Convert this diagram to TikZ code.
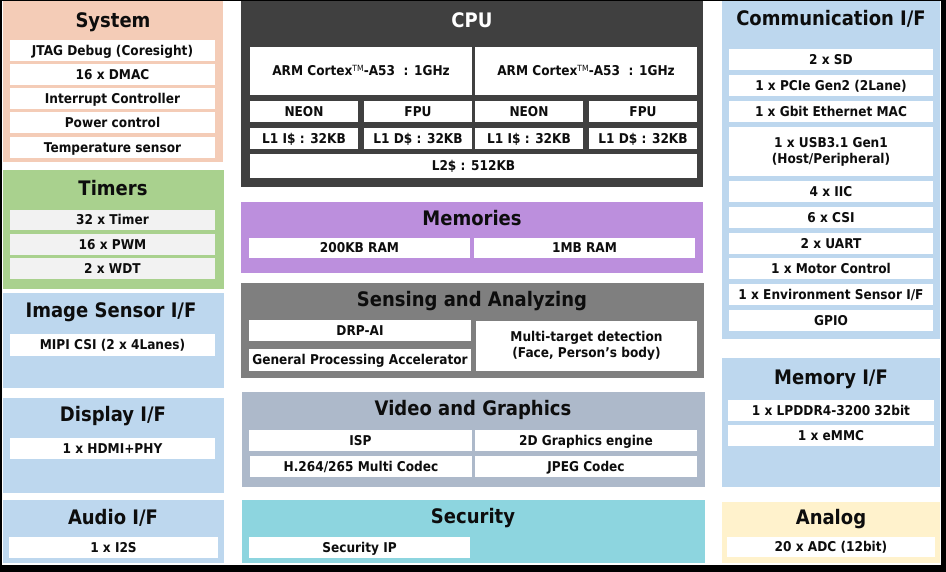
\documentclass[tikz,border=0pt]{standalone}
\usepackage{fontspec}
\setmainfont[FakeStretch=0.9]{DejaVu Sans}
\definecolor{csys}{HTML}{F4CCB7}
\definecolor{ctim}{HTML}{A9D18E}
\definecolor{cif}{HTML}{BDD7EE}
\definecolor{ccpu}{HTML}{404040}
\definecolor{cmem}{HTML}{BC8FDD}
\definecolor{csen}{HTML}{7F7F7F}
\definecolor{cvid}{HTML}{ADB9CA}
\definecolor{csec}{HTML}{8DD5DF}
\definecolor{cana}{HTML}{FFF2CC}
\definecolor{cgray}{HTML}{F2F2F2}
\definecolor{ctxt}{HTML}{0D0D0D}
\newcommand\bx[7]{%
  \pgfmathsetmacro\bw{#5-#3}\pgfmathsetmacro\bh{#6-#4}%
  \node[#1, minimum width=\bw pt, minimum height=\bh pt] (#2) at ({(#3+#5)/2},{(#4+#6)/2}) {#7};}
\newcommand\tmark{\raisebox{0.55ex}{\fontsize{8.5}{8.5}\selectfont\mdseries TM}}
\begin{document}
\begin{tikzpicture}[x=1pt,y=-1pt,
  grp/.style={draw=none, inner sep=0pt, outer sep=0pt},
  ttl/.style={inner sep=0pt, text height=14.6pt, text depth=0pt,
    font=\fontsize{20}{22}\selectfont\bfseries, text=ctxt},
  itmbase/.style={draw=none, fill=white, inner sep=0pt, outer sep=0pt, align=center,
    font=\fontsize{13.5}{16}\selectfont\bfseries, text=ctxt},
  itm/.style={itmbase, text height=9.8pt, text depth=0pt},
  itmtwo/.style={itmbase}]
\useasboundingbox (0,0) rectangle (946,572);
\fill[black] (0,0) rectangle (946,572);
\fill[white] (2,1) rectangle (941,565);
% left column
\bx{grp,fill=csys}{sys}{3}{1}{223}{162}{}
\node[ttl] (sysT) at (113,20) {System};
\bx{itm}{s1}{10}{40}{215}{61}{JTAG Debug (Coresight)}
\bx{itm}{s2}{10}{64}{215}{85}{16 x DMAC}
\bx{itm}{s3}{10}{88}{215}{109}{Interrupt Controller}
\bx{itm}{s4}{10}{112}{215}{133}{Power control}
\bx{itm}{s5}{10}{137}{215}{158}{Temperature sensor}
\bx{grp,fill=ctim}{tim}{3}{170}{224}{289}{}
\node[ttl] (timT) at (113,188) {Timers};
\bx{itm,fill=cgray}{t1}{10}{210}{215}{230}{32 x Timer}
\bx{itm,fill=cgray}{t2}{10}{234}{215}{255}{16 x PWM}
\bx{itm,fill=cgray}{t3}{10}{258}{215}{279}{2 x WDT}
\bx{grp,fill=cif}{img}{3}{293}{224}{388}{}
\node[ttl] (imgT) at (111,310) {Image Sensor I/F};
\bx{itm}{i1}{10}{334}{215}{356}{MIPI CSI (2 x 4Lanes)}
\bx{grp,fill=cif}{dsp}{3}{398}{224}{493}{}
\node[ttl] (dspT) at (113,414) {Display I/F};
\bx{itm}{d1}{10}{438}{215}{459}{1 x HDMI+PHY}
\bx{grp,fill=cif}{aud}{3}{500}{224}{563}{}
\node[ttl] (audT) at (113,517) {Audio I/F};
\bx{itm}{a1}{9}{537}{218}{558}{1 x I2S}
% middle column
\bx{grp,fill=ccpu}{cpu}{241}{1}{703}{187}{}
\node[ttl,text=white] (cpuT) at (472,20) {CPU};
\bx{itm}{c1}{250}{47}{472}{95}{ARM Cortex\tmark-A53\ \ : 1GHz}
\bx{itm}{c2}{475}{47}{697}{95}{ARM Cortex\tmark-A53\ \ : 1GHz}
\bx{itm}{n1}{250}{101}{358}{122}{NEON}
\bx{itm}{f1}{364}{101}{472}{122}{FPU}
\bx{itm}{n2}{475}{101}{583}{122}{NEON}
\bx{itm}{f2}{589}{101}{697}{122}{FPU}
\bx{itm}{li1}{250}{128}{358}{149}{L1 I\$ : 32KB}
\bx{itm}{ld1}{364}{128}{472}{149}{L1 D\$ : 32KB}
\bx{itm}{li2}{475}{128}{583}{149}{L1 I\$ : 32KB}
\bx{itm}{ld2}{589}{128}{697}{149}{L1 D\$ : 32KB}
\bx{itm}{l2}{250}{154}{697}{178}{L2\$ : 512KB}
\bx{grp,fill=cmem}{mem}{241}{202}{703}{273}{}
\node[ttl] (memT) at (472,218) {Memories};
\bx{itm}{m1}{249}{238}{470}{258}{200KB RAM}
\bx{itm}{m2}{474}{238}{695}{258}{1MB RAM}
\bx{grp,fill=csen}{sen}{241}{283}{704}{378}{}
\node[ttl] (senT) at (472,299) {Sensing and Analyzing};
\bx{itm}{e1}{249}{320}{471}{341}{DRP-AI}
\bx{itm}{e2}{249}{349}{471}{371}{General Processing Accelerator}
\bx{itmtwo}{e3}{476}{321}{697}{371}{Multi-target detection\\(Face, Person’s body)}
\bx{grp,fill=cvid}{vid}{242}{392}{705}{487}{}
\node[ttl] (vidT) at (473,408) {Video and Graphics};
\bx{itm}{v1}{249}{430}{472}{451}{ISP}
\bx{itm}{v2}{475}{430}{697}{451}{2D Graphics engine}
\bx{itm}{v3}{250}{456}{472}{477}{H.264/265 Multi Codec}
\bx{itm}{v4}{475}{456}{697}{477}{JPEG Codec}
\bx{grp,fill=csec}{sec}{242}{500}{705}{563}{}
\node[ttl] (secT) at (473,516) {Security};
\bx{itm}{q1}{249}{537}{470}{558}{Security IP}
% right column
\bx{grp,fill=cif}{com}{722}{1}{940}{339}{}
\node[ttl] (comT) at (831,18) {Communication I/F};
\bx{itm}{k1}{729}{49}{933}{70}{2 x SD}
\bx{itm}{k2}{729}{75}{933}{96}{1 x PCIe Gen2 (2Lane)}
\bx{itm}{k3}{729}{101}{933}{122}{1 x Gbit Ethernet MAC}
\bx{itmtwo}{k4}{729}{127}{933}{176}{1 x USB3.1 Gen1\\(Host/Peripheral)}
\bx{itm}{k5}{729}{181}{933}{202}{4 x IIC}
\bx{itm}{k6}{729}{207}{933}{228}{6 x CSI}
\bx{itm}{k7}{729}{233}{933}{254}{2 x UART}
\bx{itm}{k8}{729}{258}{933}{279}{1 x Motor Control}
\bx{itm}{k9}{729}{284}{933}{305}{1 x Environment Sensor I/F}
\bx{itm}{k10}{729}{310}{933}{331}{GPIO}
\bx{grp,fill=cif}{mif}{722}{358}{940}{487}{}
\node[ttl] (mifT) at (831,377) {Memory I/F};
\bx{itm}{r1}{728}{400}{934}{421}{1 x LPDDR4-3200 32bit}
\bx{itm}{r2}{728}{425}{934}{446}{1 x eMMC}
\bx{grp,fill=cana}{ana}{722}{502}{940}{563}{}
\node[ttl] (anaT) at (831,517) {Analog};
\bx{itm}{g1}{727}{537}{935}{557}{20 x ADC (12bit)}
\end{tikzpicture}
\end{document}
